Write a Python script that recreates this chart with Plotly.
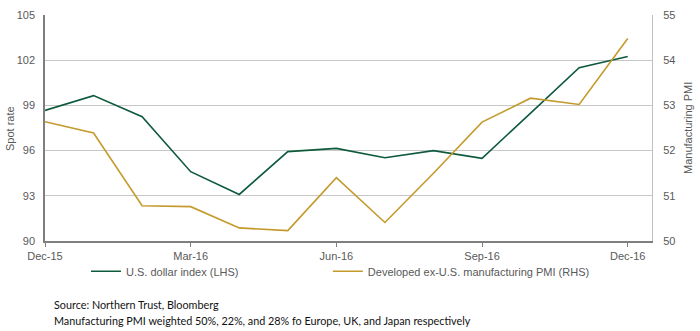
import plotly.graph_objects as go

months = ["Dec-15", "Jan-16", "Feb-16", "Mar-16", "Apr-16", "May-16", "Jun-16",
          "Jul-16", "Aug-16", "Sep-16", "Oct-16", "Nov-16", "Dec-16"]
usd_index = [98.67, 99.65, 98.25, 94.6, 93.09, 95.93, 96.15, 95.53, 96.0, 95.49, 98.49, 101.5, 102.24]
pmi = [52.64, 52.39, 50.78, 50.76, 50.29, 50.23, 51.4, 50.41, 51.5, 52.63, 53.16, 53.02, 54.48]
x_ticks = ["Dec-15", "Mar-16", "Jun-16", "Sep-16", "Dec-16"]
left_ticks = [90, 93, 96, 99, 102, 105]
right_ticks = [50, 51, 52, 53, 54, 55]

GREEN = "#0e5a3c"
GOLD = "#c59a2c"
TXT = "#595959"
FONT = "Arial, Liberation Sans, sans-serif"

fig = go.Figure()
fig.add_trace(go.Scatter(x=months, y=usd_index, mode="lines", name="U.S. dollar index (LHS)",
                         line=dict(color=GREEN, width=1.6), yaxis="y", legend="legend"))
fig.add_trace(go.Scatter(x=months, y=pmi, mode="lines", name="Developed ex-U.S. manufacturing PMI (RHS)",
                         line=dict(color=GOLD, width=1.6), yaxis="y2", legend="legend2"))

leg_common = dict(orientation="h", y=-0.07, xanchor="left", yanchor="top",
                  font=dict(family=FONT, size=11, color=TXT), bgcolor="rgba(0,0,0,0)")

fig.update_layout(
    width=700, height=331,
    margin=dict(l=45, r=48, t=15, b=90, autoexpand=False),
    paper_bgcolor="white", plot_bgcolor="white",
    font=dict(family=FONT, size=11, color=TXT),
    showlegend=True,
    legend=dict(x=0.0675, **leg_common),
    legend2=dict(x=0.466, **leg_common),
    xaxis=dict(type="category", range=[0, 12.5], tickmode="array", tickvals=x_ticks,
               ticktext=x_ticks, showgrid=False, showline=True, linecolor="#7f7f7f",
               linewidth=1.5, ticks="outside", ticklen=4, tickcolor="#7f7f7f",
               tickfont=dict(family=FONT, size=11, color=TXT), zeroline=False,
               automargin=False),
    yaxis=dict(range=[90, 105], tickvals=left_ticks, showgrid=True, gridcolor="#c8c8c8",
               gridwidth=1, showline=True, linecolor="#7f7f7f", linewidth=1.5,
               ticks="", ticklabelstandoff=6, tickfont=dict(family=FONT, size=11, color=TXT),
               zeroline=False, automargin=False),
    yaxis2=dict(range=[50, 55], tickvals=right_ticks, overlaying="y", side="right",
                showgrid=False, showline=True, linecolor="#bfbfbf", linewidth=1,
                ticks="", ticklabelstandoff=8, tickfont=dict(family=FONT, size=11, color=TXT),
                zeroline=False, automargin=False),
)

# axis titles
fig.add_annotation(text="Spot rate", xref="paper", yref="paper", x=-0.0577, y=0.5,
                   xanchor="center", yanchor="middle", textangle=-90, showarrow=False,
                   font=dict(family=FONT, size=11, color=TXT))
fig.add_annotation(text="Manufacturing PMI", xref="paper", yref="paper", x=1.0593, y=0.5,
                   xanchor="center", yanchor="middle", textangle=-90, showarrow=False,
                   font=dict(family=FONT, size=11, color=TXT))

fig.add_annotation(text="Source: Northern Trust, Bloomberg", xref="paper", yref="paper",
                   x=0.0115, y=-0.283, xanchor="left", yanchor="middle", showarrow=False,
                   font=dict(family="Lato, sans-serif", size=10.8, color="#111111"))
fig.add_annotation(text="Manufacturing PMI weighted 50%, 22%, and 28% fo Europe, UK, and Japan respectively",
                   xref="paper", yref="paper", x=0.0115, y=-0.35, xanchor="left", yanchor="middle",
                   showarrow=False, font=dict(family="Lato, sans-serif", size=10.8, color="#111111"))

fig.write_html("out.html")
